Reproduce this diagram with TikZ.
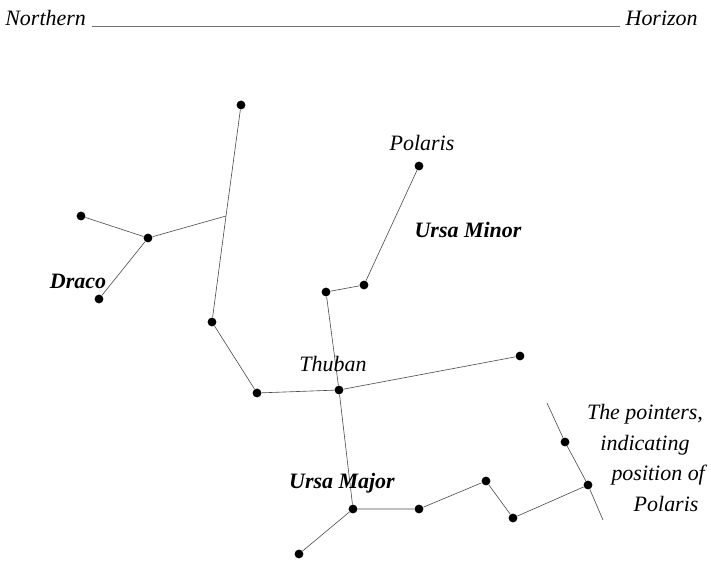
\documentclass[tikz,border=0pt]{standalone}
\usepackage{fontspec}
\setmainfont{Liberation Serif}
\usetikzlibrary{positioning}
\tikzset{
  star/.style={circle, fill=black, inner sep=0pt, minimum size=5pt},
  link/.style={draw=black!70, line width=0.35pt},
  lbl/.style={font=\fontsize{12.5}{17.6}\selectfont\itshape, inner sep=0pt},
  cname/.style={font=\fontsize{12.5}{15}\selectfont\bfseries\itshape, inner sep=0pt}
}
\begin{document}
\begin{tikzpicture}[x=0.02cm, y=-0.02cm]
        \useasboundingbox (0,0) rectangle (711,564);
        % Horizon
        \node[lbl, anchor=base west] (north) at (5,26) {Northern};
        \node[lbl, anchor=base east] (horiz) at (698,26) {Horizon};
        \draw[link, black!55] ([xshift=3pt]north.base east) -- ([xshift=-3pt]horiz.base west);
        % Draco
        \node[star] (d1) at (241,105) {};
        \coordinate (dj) at (226,216);
        \node[star] (d2) at (212,322) {};
        \node[star] (d3) at (81,216) {};
        \node[star] (d4) at (148,238) {};
        \node[star] (d5) at (99,299) {};
        \node[star] (d6) at (257,393) {};
        \node[star] (thuban) at (339,390) {};
        \node[star] (d7) at (520,356) {};
        \draw[link] (d1) -- (dj) -- (d2) -- (d6) -- (thuban) -- (d7);
        \draw[link] (d3) -- (d4) -- (dj);
        \draw[link] (d4) -- (d5);
        % Ursa Minor
        \node[star] (m1) at (326,292) {};
        \node[star] (m2) at (364,285) {};
        \node[star] (polaris) at (419,166) {};
        \draw[link] (thuban) -- (m1) -- (m2) -- (polaris);
        % Ursa Major
        \node[star] (u1) at (353,509) {};
        \node[star] (u2) at (419,509) {};
        \node[star] (u3) at (486,481) {};
        \node[star] (u4) at (513,518) {};
        \node[star] (u5) at (588,485) {};
        \node[star] (u6) at (299,554) {};
        \node[star] (u7) at (565,442) {};
        \draw[link] (thuban) -- (u1) -- (u2) -- (u3) -- (u4) -- (u5);
        \draw[link] (u1) -- (u6);
        % Pointers line
        \coordinate (p1) at (547,403);
        \coordinate (p2) at (603,520);
        \draw[link] (p1) -- (u7) -- (u5) -- (p2);
        % Labels
        \node[lbl] (tpolaris) at (422,143) {Polaris};
        \node[cname] (tminor) at (468,230) {Ursa Minor};
        \node[cname] (tdraco) at (78,281) {Draco};
        \node[lbl] (tthuban) at (333,364) {Thuban};
        \node[cname] (tmajor) at (342,483) {Ursa Major};
        \node[lbl, align=center] (tpointers) at (645,458)
          {The pointers,\\ indicating\\ \hspace*{15pt}position of\\ \hspace*{24pt}Polaris};
\end{tikzpicture}
\end{document}
